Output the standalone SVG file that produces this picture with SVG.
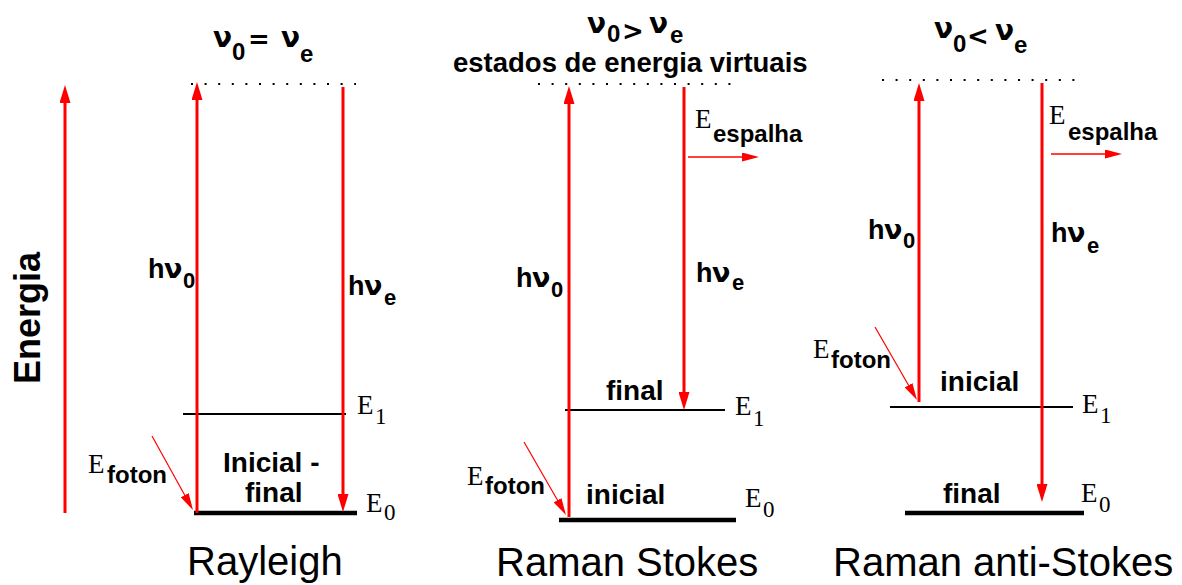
<svg xmlns="http://www.w3.org/2000/svg" width="1182" height="585" viewBox="0 0 1182 585">
<style>
.b{font-family:"Liberation Sans",Arial,sans-serif;font-weight:bold;fill:#000}
.g{font-family:"DejaVu Sans",sans-serif;font-weight:bold}
.n{font-family:"Liberation Sans",Arial,sans-serif;font-size:40px;fill:#000}
.s{font-family:"Liberation Serif","Times New Roman",serif;font-size:27px;fill:#000}
.ss{font-size:23px}
.t{font-size:28px}
.ts{font-size:24px}
.op{font-size:26px}
.h{font-size:27px}
.hs{font-size:22px}
.m{font-size:28px}
.sm{font-size:24px}
.lvl{stroke:#000;stroke-width:2}
.lvl0{stroke:#000;stroke-width:4.5}
.dot{stroke:#000;stroke-width:2;stroke-dasharray:2 11.6}
.big{stroke:#ff0000;stroke-width:3;fill:none}
.thin{stroke:#ff0000;stroke-width:1.5;fill:none}
.dg{stroke:#ff0000;stroke-width:1.2;fill:none}
</style>
<defs>
<marker id="ah" markerUnits="userSpaceOnUse" markerWidth="18" markerHeight="11" refX="8" refY="5.5" orient="auto"><path d="M0,0 L18,5.5 L0,11 z" fill="#ff0000"/></marker>
<marker id="as" markerUnits="userSpaceOnUse" markerWidth="17" markerHeight="9" refX="7" refY="4.5" orient="auto"><path d="M0,0 L17,4.5 L0,9 z" fill="#ff0000"/></marker>
</defs>
<rect width="1182" height="585" fill="#fff"/>

<g id="axis">
<text class="b" font-size="36" transform="translate(40,318) rotate(-90)" text-anchor="middle">Energia</text>
</g>

<g id="rayleigh">
<text class="b t"><tspan class="g" x="213" y="47">ν</tspan><tspan class="ts" x="232" y="60">0</tspan><tspan class="g op" x="248" y="48">=</tspan><tspan class="g" x="281" y="47">ν</tspan><tspan class="ts" x="300" y="62">e</tspan></text>
<line class="dot" x1="191" y1="84" x2="356" y2="84"/>
<line class="lvl" x1="183" y1="414" x2="346" y2="414"/>
<line class="lvl0" x1="194" y1="513" x2="357" y2="513"/>
<text class="b h"><tspan x="148" y="278">h</tspan><tspan class="g" x="164" y="278">ν</tspan><tspan class="hs" x="183" y="288">0</tspan></text>
<text class="b h"><tspan x="348" y="295">h</tspan><tspan class="g" x="364" y="295">ν</tspan><tspan class="hs" x="384" y="305">e</tspan></text>
<text class="s"><tspan x="357" y="414">E</tspan><tspan class="ss" x="375" y="424">1</tspan></text>
<text class="s"><tspan x="366" y="512">E</tspan><tspan class="ss" x="384" y="520">0</tspan></text>
<text><tspan class="s" x="88" y="473">E</tspan><tspan class="b sm" x="107" y="483">foton</tspan></text>
<text class="b m" x="223" y="472">Inicial -</text>
<text class="b m" x="245" y="502">final</text>
<text class="n" x="187" y="575">Rayleigh</text>
</g>

<g id="stokes">
<text class="b t"><tspan class="g" x="587" y="33">ν</tspan><tspan class="ts" x="607" y="42">0</tspan><tspan class="g op" x="622" y="40">&gt;</tspan><tspan class="g" x="649" y="33">ν</tspan><tspan class="ts" x="670" y="43">e</tspan></text>
<text class="b" font-size="27.5" x="453" y="72">estados de energia virtuais</text>
<line class="dot" x1="538" y1="84" x2="732" y2="84"/>
<line class="lvl" x1="565" y1="410" x2="725" y2="410"/>
<line class="lvl0" x1="559" y1="520" x2="736" y2="520"/>
<text class="b h"><tspan x="516" y="287">h</tspan><tspan class="g" x="532" y="287">ν</tspan><tspan class="hs" x="551" y="297">0</tspan></text>
<text class="b h"><tspan x="696" y="282">h</tspan><tspan class="g" x="712" y="282">ν</tspan><tspan class="hs" x="732" y="290">e</tspan></text>
<text><tspan class="s" x="695" y="128">E</tspan><tspan class="b sm" x="713" y="142">espalha</tspan></text>
<text class="s"><tspan x="735" y="415">E</tspan><tspan class="ss" x="753" y="426">1</tspan></text>
<text class="s"><tspan x="745" y="507">E</tspan><tspan class="ss" x="763" y="517">0</tspan></text>
<text><tspan class="s" x="467" y="485">E</tspan><tspan class="b sm" x="485" y="494">foton</tspan></text>
<text class="b m" x="606" y="400">final</text>
<text class="b m" x="586" y="504">inicial</text>
<text class="n" x="496" y="576">Raman Stokes</text>
</g>

<g id="antistokes">
<text class="b t"><tspan class="g" x="934" y="38">ν</tspan><tspan class="ts" x="953" y="52">0</tspan><tspan class="g op" x="967" y="45">&lt;</tspan><tspan class="g" x="995" y="40">ν</tspan><tspan class="ts" x="1014" y="53">e</tspan></text>
<line class="dot" x1="882" y1="80" x2="1075" y2="80"/>
<line class="lvl" x1="890" y1="407" x2="1073" y2="407"/>
<line class="lvl0" x1="905" y1="513" x2="1084" y2="513"/>
<text class="b h"><tspan x="868" y="239">h</tspan><tspan class="g" x="884" y="239">ν</tspan><tspan class="hs" x="903" y="248">0</tspan></text>
<text class="b h"><tspan x="1051" y="242">h</tspan><tspan class="g" x="1067" y="242">ν</tspan><tspan class="hs" x="1087" y="253">e</tspan></text>
<text><tspan class="s" x="1049" y="124">E</tspan><tspan class="b sm" x="1068" y="140">espalha</tspan></text>
<text class="s"><tspan x="1082" y="413">E</tspan><tspan class="ss" x="1100" y="423">1</tspan></text>
<text class="s"><tspan x="1081" y="502">E</tspan><tspan class="ss" x="1099" y="512">0</tspan></text>
<text><tspan class="s" x="813" y="358">E</tspan><tspan class="b sm" x="831" y="368">foton</tspan></text>
<text class="b m" x="940" y="391">inicial</text>
<text class="b m" x="943" y="503">final</text>
<text class="n" x="833" y="576">Raman anti-Stokes</text>
</g>

<g id="connectors">
<line class="big" x1="65" y1="513" x2="65" y2="95" marker-end="url(#ah)"/>
<line class="big" x1="197" y1="513" x2="197" y2="92" marker-end="url(#ah)"/>
<line class="big" x1="343" y1="87" x2="343" y2="502" marker-end="url(#ah)"/>
<line class="dg" x1="152" y1="436" x2="188.1" y2="501.3" marker-end="url(#as)"/>
<line class="big" x1="569" y1="517" x2="569" y2="96" marker-end="url(#ah)"/>
<line class="big" x1="684" y1="87" x2="684" y2="400" marker-end="url(#ah)"/>
<line class="thin" x1="688" y1="157" x2="749" y2="157" marker-end="url(#as)"/>
<line class="dg" x1="524" y1="442" x2="561" y2="506.3" marker-end="url(#as)"/>
<line class="big" x1="919" y1="402" x2="919" y2="93" marker-end="url(#ah)"/>
<line class="big" x1="1042" y1="83" x2="1042" y2="492" marker-end="url(#ah)"/>
<line class="thin" x1="1051" y1="154" x2="1112" y2="154" marker-end="url(#as)"/>
<line class="dg" x1="875" y1="327" x2="912" y2="391.3" marker-end="url(#as)"/>
</g>
</svg>
